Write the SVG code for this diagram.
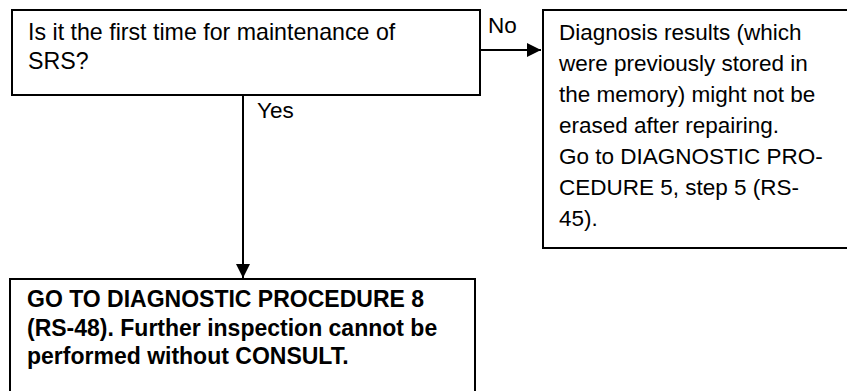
<svg xmlns="http://www.w3.org/2000/svg" width="847" height="391" viewBox="0 0 847 391">
<defs>
<style>
.box{fill:#fff;stroke:#000;stroke-width:2}
.t{font-family:"Liberation Sans",Arial,sans-serif;font-size:22.5px;fill:#000}
.l{font-size:23.2px}
.b{font-weight:bold;font-size:23px}
.c{stroke:#000;stroke-width:2;fill:none}
</style>
<marker id="ah" viewBox="0 0 10 10" refX="10" refY="5" markerWidth="14" markerHeight="14" markerUnits="userSpaceOnUse" orient="auto">
<path d="M0,0 L10,5 L0,10 Z" fill="#000"/>
</marker>
</defs>
<rect width="847" height="391" fill="#fff"/>
<g id="q1">
<rect class="box" x="12" y="10" width="468" height="85"/>
<text class="t l" x="28" y="40">Is it the first time for maintenance of</text>
<text class="t l" x="28" y="69">SRS?</text>
</g>
<g id="no-result">
<rect class="box" x="543" y="10" width="310" height="238"/>
<text class="t" x="559" y="40">Diagnosis results (which</text>
<text class="t" x="559" y="71">were previously stored in</text>
<text class="t" x="559" y="102">the memory) might not be</text>
<text class="t" x="559" y="133">erased after repairing.</text>
<text class="t" x="559" y="164">Go to DIAGNOSTIC PRO-</text>
<text class="t" x="559" y="195">CEDURE 5, step 5 (RS-</text>
<text class="t" x="559" y="226">45).</text>
</g>
<g id="yes-result">
<rect class="box" x="10" y="279" width="465" height="130"/>
<text class="t b" x="27" y="307">GO TO DIAGNOSTIC PROCEDURE 8</text>
<text class="t b" x="27" y="336">(RS-48). Further inspection cannot be</text>
<text class="t b" x="27" y="364">performed without CONSULT.</text>
</g>
<g id="connectors">
<line class="c" x1="480" y1="50" x2="541" y2="50" marker-end="url(#ah)"/>
<line class="c" x1="243" y1="95" x2="243" y2="278" marker-end="url(#ah)"/>
<text class="t" x="488" y="33">No</text>
<text class="t" x="257" y="118">Yes</text>
</g>
</svg>
